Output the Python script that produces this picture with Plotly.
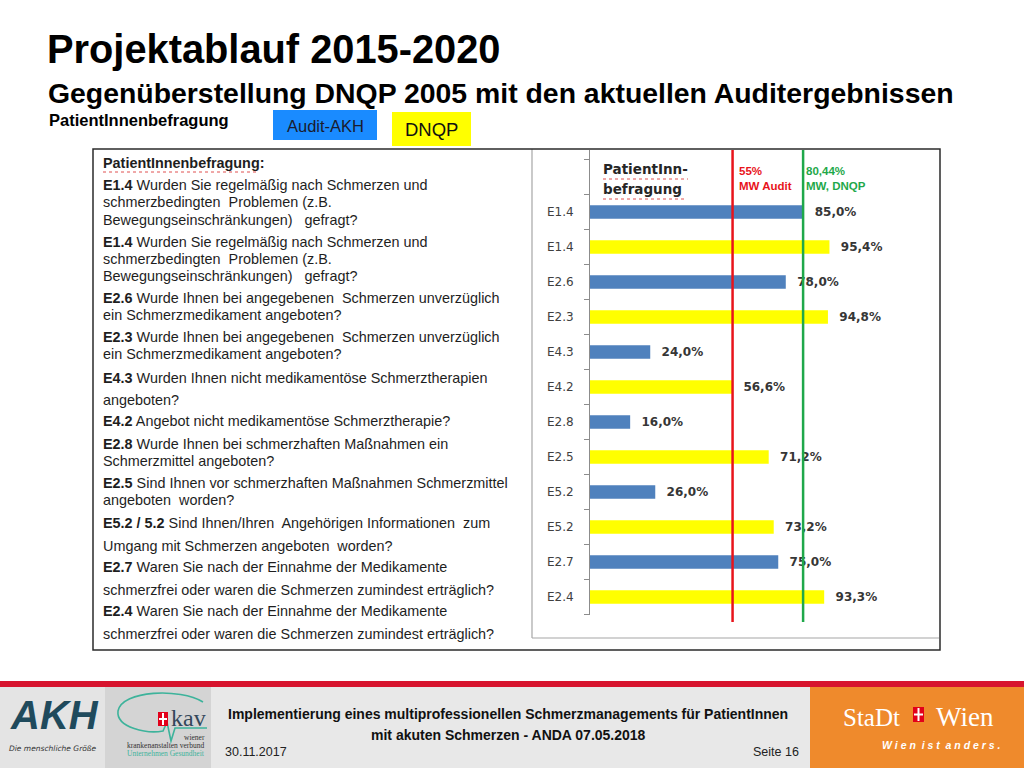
import plotly.graph_objects as go

W, H = 1024, 768

# ---------------- data ----------------
bar_labels = ["E1.4", "E1.4", "E2.6", "E2.3", "E4.3", "E4.2",
              "E2.8", "E2.5", "E5.2", "E5.2", "E2.7", "E2.4"]
bar_values = [85.0, 95.4, 78.0, 94.8, 24.0, 56.6, 16.0, 71.2, 26.0, 73.2, 75.0, 93.3]
bar_series = ["Audit-AKH", "DNQP"] * 6
series_names = ["Audit-AKH", "DNQP"]

ref_line_values = [56.8, 84.9]          # positions of the drawn mean lines
ref_line_labels = ["55%<br>MW Audit", "80,44%<br>MW, DNQP"]

panel_lines = [
    "<b>PatientInnenbefragung:</b>",
    "<b>E1.4</b> Wurden Sie regelmäßig nach Schmerzen und",
    "schmerzbedingten  Problemen (z.B.",
    "Bewegungseinschränkungen)   gefragt?",
    "<b>E1.4</b> Wurden Sie regelmäßig nach Schmerzen und",
    "schmerzbedingten  Problemen (z.B.",
    "Bewegungseinschränkungen)   gefragt?",
    "<b>E2.6</b> Wurde Ihnen bei angegebenen  Schmerzen unverzüglich",
    "ein Schmerzmedikament angeboten?",
    "<b>E2.3</b> Wurde Ihnen bei angegebenen  Schmerzen unverzüglich",
    "ein Schmerzmedikament angeboten?",
    "<b>E4.3</b> Wurden Ihnen nicht medikamentöse Schmerztherapien",
    "angeboten?",
    "<b>E4.2</b> Angebot nicht medikamentöse Schmerztherapie?",
    "<b>E2.8</b> Wurde Ihnen bei schmerzhaften Maßnahmen ein",
    "Schmerzmittel angeboten?",
    "<b>E2.5</b> Sind Ihnen vor schmerzhaften Maßnahmen Schmerzmittel",
    "angeboten  worden?",
    "<b>E5.2 / 5.2</b> Sind Ihnen/Ihren  Angehörigen Informationen  zum",
    "Umgang mit Schmerzen angeboten  worden?",
    "<b>E2.7</b> Waren Sie nach der Einnahme der Medikamente",
    "schmerzfrei oder waren die Schmerzen zumindest erträglich?",
    "<b>E2.4</b> Waren Sie nach der Einnahme der Medikamente",
    "schmerzfrei oder waren die Schmerzen zumindest erträglich?",
]

# ---------------- layout helpers ----------------
panel_line_y = [163, 185, 202, 220, 242, 259, 276, 298, 315, 337, 354, 378,
                400, 421, 444, 461, 483, 500, 523, 546, 567, 590, 611, 634]
series_colors = {"Audit-AKH": "#4F81BD", "DNQP": "#FFFF00"}


def px(x):
    return x / W


def py(y):
    return 1 - y / H


def fmt(v):
    return "\u00a0\u00a0" + f"{v:.1f}".replace(".", ",") + "%"


fig = go.Figure()

idx = list(range(len(bar_values)))
for s in series_names:
    ii = [i for i in idx if bar_series[i] == s]
    fig.add_trace(go.Bar(
        x=[bar_values[i] for i in ii],
        y=ii,
        orientation="h",
        width=0.38,
        name=s,
        marker=dict(color=series_colors[s], line=dict(width=0)),
        text=[fmt(bar_values[i]) for i in ii],
        textposition="outside",
        constraintext="none",
        cliponaxis=False,
        textfont=dict(family="DejaVu Sans", size=12, color="#363636", weight="bold"),
        showlegend=False,
        hoverinfo="skip",
    ))

# axis geometry (pixels)
ax_left, ax_right = 590, 939
ax_top, ax_bottom = 150, 614.5
slot = 35.0
x_max = (ax_right - ax_left) / 2.51
y_top = (len(bar_values) - 0.5) - (ax_bottom - ax_top) / slot

fig.update_layout(
    width=W, height=H,
    margin=dict(l=0, r=0, t=0, b=0),
    paper_bgcolor="white", plot_bgcolor="rgba(0,0,0,0)",
    barmode="overlay",
    xaxis=dict(domain=[px(ax_left), px(ax_right)], range=[0, x_max],
               visible=False, fixedrange=True),
    yaxis=dict(domain=[py(ax_bottom), py(ax_top)],
               range=[len(bar_values) - 0.5, y_top],
               tickmode="array", tickvals=idx, ticktext=bar_labels,
               ticks="outside", ticklen=13, tickcolor="rgba(0,0,0,0)",
               tickfont=dict(family="DejaVu Sans", size=12, color="#404040"),
               showline=True, linecolor="#8C8C8C", linewidth=1,
               showgrid=False, zeroline=False, fixedrange=True,
               minor=dict(tickmode="array",
                          tickvals=[k - 0.5 for k in range(-1, len(bar_values) + 1)],
                          ticks="outside", ticklen=5, tickcolor="#8C8C8C", showgrid=False)),
    font=dict(family="Liberation Sans"),
)

shapes = []
# mean lines
for v, col, w in zip(ref_line_values, ["#E8141B", "#1FA84A"], [2.5, 2.5]):
    shapes.append(dict(type="line", xref="x", yref="paper", x0=v, x1=v,
                       y0=py(622), y1=py(150), line=dict(color=col, width=w)))

# chart area frame (gray) and outer black box
shapes.append(dict(type="line", xref="paper", yref="paper", x0=px(532), x1=px(532),
                   y0=py(149), y1=py(638), line=dict(color="#A6A6A6", width=1.2)))
shapes.append(dict(type="line", xref="paper", yref="paper", x0=px(532), x1=px(939),
                   y0=py(638), y1=py(638), line=dict(color="#A6A6A6", width=1.2)))
shapes.append(dict(type="rect", xref="paper", yref="paper", x0=px(93), x1=px(940),
                   y0=py(650), y1=py(149), line=dict(color="#2B2B2B", width=1.5)))

# spell-check style red dotted underlines
for (x0, x1, yy) in [(103, 257, 172), (603, 688, 179), (603, 684, 199)]:
    shapes.append(dict(type="line", xref="paper", yref="paper", x0=px(x0), x1=px(x1),
                       y0=py(yy), y1=py(yy), line=dict(color="#E05050", width=1, dash="dot")))

# legend boxes
shapes.append(dict(type="rect", xref="paper", yref="paper", x0=px(273), x1=px(377),
                   y0=py(140), y1=py(110), fillcolor="#1A8BFF", line=dict(width=0), layer="below"))
shapes.append(dict(type="rect", xref="paper", yref="paper", x0=px(392), x1=px(471),
                   y0=py(146), y1=py(112), fillcolor="#FFFF00", line=dict(width=0), layer="below"))

# footer
shapes.append(dict(type="rect", xref="paper", yref="paper", x0=0, x1=1,
                   y0=0, y1=py(686), fillcolor="#E8E8E8", line=dict(width=0), layer="below"))
shapes.append(dict(type="rect", xref="paper", yref="paper", x0=0, x1=1,
                   y0=py(687), y1=py(681), fillcolor="#D7142E", line=dict(width=0), layer="below"))
shapes.append(dict(type="rect", xref="paper", yref="paper", x0=0, x1=px(105),
                   y0=0, y1=py(687), fillcolor="#E4E4E4", line=dict(width=0), layer="below"))
shapes.append(dict(type="rect", xref="paper", yref="paper", x0=px(105), x1=px(211),
                   y0=0, y1=py(687), fillcolor="#D4D4D4", line=dict(width=0), layer="below"))
shapes.append(dict(type="rect", xref="paper", yref="paper", x0=px(810), x1=1,
                   y0=0, y1=py(687), fillcolor="#EF8A2C", line=dict(width=0), layer="below"))


def path(points_cmd):
    out = []
    for tok in points_cmd:
        if isinstance(tok, str):
            out.append(tok)
        else:
            out.append(f"{px(tok[0]):.5f},{py(tok[1]):.5f}")
    return " ".join(out)


# kav green curve
shapes.append(dict(type="path", xref="paper", yref="paper",
                   path=path(["M", (203, 702), "C", (180, 688), (122, 690), (118, 711),
                              "C", (116, 728), (148, 734), (163, 731),
                              "L", (167, 722), "L", (171, 741), "L", (175, 728), "L", (207, 728)]),
                   line=dict(color="#3DB39B", width=1.6)))
# small shields
for (x0, x1, y0, y1) in [(158, 168, 712, 726), (913, 924, 707, 722)]:
    shapes.append(dict(type="rect", xref="paper", yref="paper", x0=px(x0), x1=px(x1),
                       y0=py(y1), y1=py(y0), fillcolor="#E2001A", line=dict(width=0)))
    cx = (x0 + x1) / 2
    cy = (y0 + y1) / 2
    shapes.append(dict(type="line", xref="paper", yref="paper", x0=px(x0 + 1), x1=px(x1 - 1),
                       y0=py(cy), y1=py(cy), line=dict(color="white", width=2)))
    shapes.append(dict(type="line", xref="paper", yref="paper", x0=px(cx), x1=px(cx),
                       y0=py(y0 + 1), y1=py(y1 - 1), line=dict(color="white", width=2)))

fig.update_layout(shapes=shapes)


def ann(text, x, y, size, color="#111111", family="Liberation Sans", xanchor="left",
        yanchor="middle", align="left"):
    fig.add_annotation(text=text, x=px(x), y=py(y), xref="paper", yref="paper",
                       showarrow=False, xanchor=xanchor, yanchor=yanchor, align=align,
                       font=dict(size=size, color=color, family=family))


# titles
ann("<b>Projektablauf 2015-2020</b>", 45, 49, 39.8, "#000000")
ann("<b>Gegenüberstellung DNQP 2005 mit den aktuellen Auditergebnissen</b>", 46, 93, 28.4, "#000000")
ann("<b>PatientInnenbefragung</b>", 47, 120, 16.5, "#000000")
ann(series_names[0], 325, 126, 16.5, "#1B1B2E", xanchor="center")
ann(series_names[1], 431, 129, 18.5, "#111111", xanchor="center")

# left text panel
for t, yy in zip(panel_lines, panel_line_y):
    ann(t, 101, yy, 14.4, "#1E1E1E")

# chart title inside chart
ann("<b>PatientInn-</b>", 601, 169, 13.5, "#262626", family="DejaVu Sans")
ann("<b>befragung</b>", 601, 189, 13.5, "#262626", family="DejaVu Sans")

# mean-line labels
for lab, xx, col in zip(ref_line_labels, [737, 804], ["#E8141B", "#1FA84A"]):
    ann("<b>" + lab + "</b>", xx, 179, 11.5, col, align="left")

# footer texts
ann("<b>Implementierung eines multiprofessionellen Schmerzmanagements für PatientInnen</b>",
    508, 714, 14, "#111111", xanchor="center")
ann("<b>mit akuten Schmerzen - ANDA 07.05.2018</b>",
    508, 735, 14, "#111111", xanchor="center")
ann("30.11.2017", 223, 752, 12.5, "#222222")
ann("Seite 16", 801, 752, 12.5, "#222222", xanchor="right")

# AKH logo (text approximation)
ann("<b><i>AKH</i></b>", 54, 715, 40, "#1F4A5C", xanchor="center")
ann("<i>Die menschliche Größe</i>", 53, 748, 7.5, "#333333", xanchor="center",
    family="DejaVu Sans")
# kav logo (text approximation)
ann("kav", 188, 718, 24, "#33475A", family="Liberation Serif", xanchor="center")
ann("wiener", 207, 737, 7.5, "#333333", family="Liberation Serif", xanchor="right")
ann("krankenanstalten verbund", 207, 745, 7.5, "#333333", family="Liberation Serif", xanchor="right")
ann("Unternehmen Gesundheit", 207, 753, 7.5, "#3DB39B", family="Liberation Serif", xanchor="right")

# Stadt Wien logo
ann("StaDt", 871, 717, 25, "white", family="Liberation Serif", xanchor="center")
ann("Wien", 965, 717, 27, "white", family="Liberation Serif", xanchor="center")
ann("<b><i>W i e n  i s t  a n d e r s .</i></b>", 1003, 745, 10.5, "white", xanchor="right")

fig.write_html("out.html",
               config={"displayModeBar": False, "staticPlot": True},
               post_script="document.body.style.margin='0';document.body.style.overflow='hidden';")
